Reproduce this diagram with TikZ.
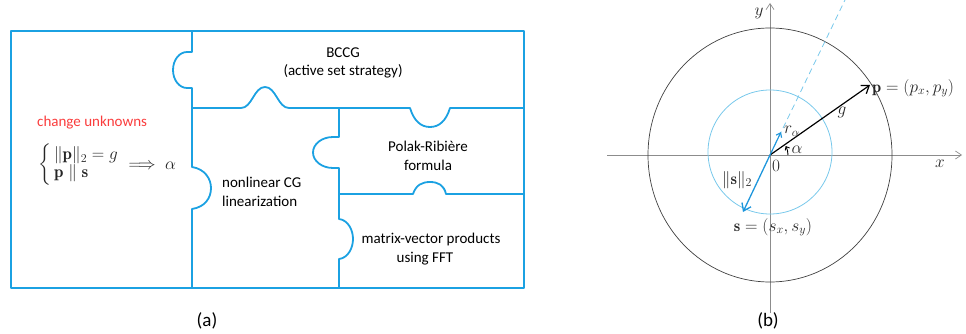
\documentclass[tikz,border=0pt]{standalone}
\usepackage{fontspec}
\usepackage{amsmath}
\newfontfamily\carlitofont{Carlito}
\usetikzlibrary{arrows.meta}
\definecolor{frameblue}{RGB}{27,161,226}
\definecolor{lightblue}{RGB}{120,200,235}
\definecolor{arrowblue}{RGB}{30,150,220}
\definecolor{redtxt}{RGB}{250,60,60}
\definecolor{axisgrey}{RGB}{140,140,140}
\tikzset{
  frame/.style={draw=frameblue, line width=1.8pt, line join=round},
  lbl/.style={font=\carlitofont\fontsize{15}{18.5}\selectfont, align=center, inner sep=0pt},
  figcap/.style={font=\carlitofont\fontsize{19}{22}\selectfont, inner sep=0pt},
  mth/.style={font=\fontsize{16.5}{19}\selectfont, inner sep=0pt, text=black!85},
  amth/.style={font=\fontsize{17}{18}\selectfont, inner sep=0pt, text=black!85},
  axisline/.style={draw=axisgrey, line width=0.7pt, -{Straight Barb[length=6pt,width=8pt]}},
}
\begin{document}
\begin{tikzpicture}[x=1pt,y=-1pt]
\useasboundingbox (0,0) rectangle (966,334);
% ---------- (a) ----------
\draw[frame] (11,31) rectangle (524,288);
% first vertical divider
\draw[frame] (192,31) -- (192,52) -- (187,52)
  arc[start angle=90,end angle=270,x radius=14,y radius=-18] -- (192,88)
  -- (192,167) .. controls (205,169) and (211,179) .. (211,188)
  .. controls (211,198) and (205,207) .. (192,209) -- (192,288);
% upper horizontal divider
\draw[frame] (192,108) -- (241,108) .. controls (252,108) and (254,87) .. (265,87)
  .. controls (276,87) and (278,108) .. (289,108) -- (410,108)
  .. controls (414,121) and (421,127) .. (430,127)
  .. controls (439,127) and (446,121) .. (450,108) -- (524,108);
% second vertical divider
\draw[frame] (339,108) -- (339,137) -- (333,137)
  arc[start angle=90,end angle=270,x radius=20,y radius=-15.5] -- (339,168)
  -- (339,219) .. controls (348,220) and (353,230) .. (353,239)
  .. controls (353,248) and (348,258) .. (339,259) -- (339,288);
% lower horizontal divider
\draw[frame] (339,194) -- (413,194) .. controls (416,185) and (422,182) .. (430,182)
  .. controls (438,182) and (444,185) .. (446,194) -- (524,194);
% texts
\node[lbl] (bccg) at (343,63) {BCCG\\(active set strategy)};
\node[lbl, text=redtxt, anchor=west] (chg) at (37,123) {change unknowns};
\node[amth, anchor=west] (sys) at (38,165)
  {$\left\{\begin{array}{@{\,}l@{}} \|\mathbf{p}\|_2 = g\\ \mathbf{p}\parallel\mathbf{s}\end{array}\right.\;\Longrightarrow\; \alpha$};
\node[lbl, align=left, anchor=west] (ncg) at (222,192) {nonlinear CG\\linearization};
\node[lbl] (pr) at (428,156) {Polak-Ribière\\formula};
\node[lbl] (mv) at (431,249) {matrix-vector products\\\hspace*{-12pt}using FFT};
\node[figcap] (capa) at (207,321) {(a)};
% ---------- (b) ----------
\coordinate (O) at (770,155);
\coordinate (P) at (870,85);
\coordinate (S) at (743,212);
\coordinate (D) at (845,0);
\coordinate (R) at (781,132);
\coordinate (xl) at (607,155);
\coordinate (xr) at (962,155);
\coordinate (yb) at (770,313);
\coordinate (yt) at (770,3);
\draw[axisline] (xl) -- (xr);
\draw[axisline] (yb) -- (yt);
\draw[black!75, line width=0.7pt] (O) ellipse[x radius=122, y radius=127];
\draw[lightblue, line width=0.8pt] (770,152) circle[radius=62];
\draw[lightblue, line width=0.8pt, dashed, dash pattern=on 6pt off 4pt] (O) -- (D);
\draw[black, line width=1.2pt, -{Straight Barb[length=7pt,width=10pt]}] (O) -- (P);
\draw[arrowblue, line width=1.3pt, -{Straight Barb[length=7pt,width=10pt]}] (O) -- (S);
\draw[arrowblue, line width=1.1pt, -{Straight Barb[length=4pt,width=6pt]}] (O) -- (R);
\draw[black, line width=0.9pt, -{Straight Barb[length=3pt,width=5pt]}] (788,155) arc[start angle=0,end angle=-30,radius=18];
\node[mth, anchor=west] (plab) at (872,88) {$\mathbf{p} = (p_x, p_y)$};
\node[mth] (slab) at (773,227) {$\mathbf{s} = (s_x, s_y)$};
\node[mth] (glab) at (842,112) {$g$};
\node[mth] (ralab) at (792,131) {$r_\alpha$};
\node[mth] (alab) at (797,150) {$\alpha$};
\node[mth] (zero) at (776,166) {$0$};
\node[mth] (snorm) at (737,180) {$\|\mathbf{s}\|_2$};
\node[mth] (xlab) at (940,164) {$x$};
\node[mth] (ylab) at (759,13) {$y$};
\node[figcap] (capb) at (768,321) {(b)};
\end{tikzpicture}
\end{document}
